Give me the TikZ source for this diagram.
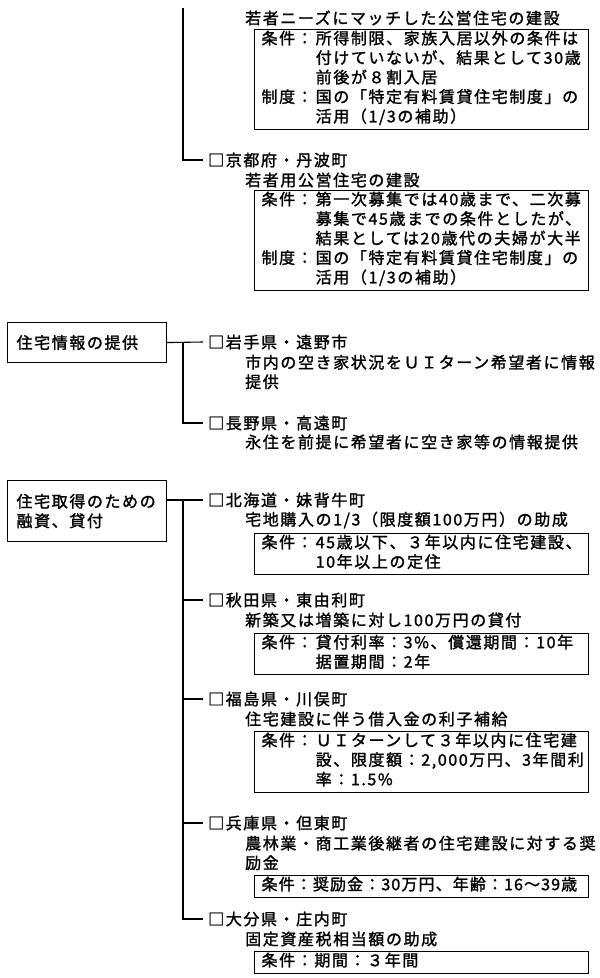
\documentclass[tikz,border=0pt]{standalone}
\usepackage{fontspec}
\setmainfont{Noto Sans CJK JP}[LetterSpace=10,RawFeature={embolden=1.5}]
\usetikzlibrary{positioning}
\newcommand{\jkbox}[1]{\begin{tabular}{@{}l@{\hspace{3pt}}l@{}}#1\end{tabular}}

\begin{document}
\begin{tikzpicture}[x=1pt,y=-1pt,
  every node/.style={font=\fontsize{16}{19.5}\selectfont},
  cat/.style={rectangle, draw, line width=1.1pt, anchor=north west,
    text width=141pt, inner xsep=9pt, align=left},
  town/.style={anchor=west, inner xsep=5pt, inner ysep=0pt},
  desc/.style={anchor=west, inner sep=0pt, align=left},
  cond/.style={rectangle, draw, line width=1.1pt, anchor=north west,
    text width=320pt, inner xsep=7pt, inner ysep=1pt, align=left},
  ln/.style={line width=1.1pt}
]
  \useasboundingbox (0,0) rectangle (600,978);

  % 前ページからの続き
  \coordinate (top) at (183,8);
  \node[desc] (d0) at (245,18) {若者ニーズにマッチした公営住宅の建設};
  \node[cond] (c0) at (254,29) {\jkbox{条件：&所得制限、家族入居以外の条件は\\ &付けていないが、結果として30歳\\ &前後が８割入居\\ 制度：&国の「特定有料賃貸住宅制度」の\\ &活用（1/3の補助）}};

  \node[town] (kyoto) at (203,160) {□京都府・丹波町};
  \node[desc] (d1) at (245,180) {若者用公営住宅の建設};
  \node[cond] (c1) at (254,190) {\jkbox{条件：&第一次募集では40歳まで、二次募\\ &募集で45歳までの条件としたが、\\ &結果としては20歳代の夫婦が大半\\ 制度：&国の「特定有料賃貸住宅制度」の\\ &活用（1/3の補助）}};

  % 住宅情報の提供
  \node[cat, minimum height=40pt] (info) at (7,322) {住宅情報の提供};
  \node[town] (iwate) at (203,342) {□岩手県・遠野市};
  \node[desc] (d2) at (245,372) {市内の空き家状況をＵＩターン希望者に情報\\提供};
  \node[town] (nagano) at (203,423) {□長野県・高遠町};
  \node[desc] (d3) at (245,442) {永住を前提に希望者に空き家等の情報提供};

  % 住宅取得のための融資、貸付
  \node[cat, minimum height=61pt] (loan) at (7,480) {住宅取得のための\\融資、貸付};
  \node[town] (hokkaido) at (203,500) {□北海道・妹背牛町};
  \node[desc] (d4) at (245,520) {宅地購入の1/3（限度額100万円）の助成};
  \node[cond] (c4) at (254,533) {\jkbox{条件：&45歳以下、３年以内に住宅建設、\\ &10年以上の定住}};
  \node[town] (akita) at (203,600) {□秋田県・東由利町};
  \node[desc] (d5) at (245,620) {新築又は増築に対し100万円の貸付};
  \node[cond] (c5) at (254,633) {\jkbox{条件：&貸付利率：3\%、償還期間：10年\\ &据置期間：2年}};
  \node[town] (fukushima) at (203,699) {□福島県・川俣町};
  \node[desc] (d6) at (245,719) {住宅建設に伴う借入金の利子補給};
  \node[cond] (c6) at (254,731) {\jkbox{条件：&ＵＩターンして３年以内に住宅建\\ &設、限度額：2,000万円、3年間利\\ &率：1.5\%}};
  \node[town] (hyogo) at (203,823) {□兵庫県・但東町};
  \node[desc] (d7) at (245,853) {農林業・商工業後継者の住宅建設に対する奨\\励金};
  \node[cond] (c7) at (254,875) {\addfontfeatures{LetterSpace=7}\jkbox{条件：奨励金：30万円、年齢：16～39歳}};
  \node[town] (oita) at (203,919) {□大分県・庄内町};
  \node[desc] (d8) at (245,939) {固定資産税相当額の助成};
  \node[cond] (c8) at (254,951) {\jkbox{条件：期間：３年間}};

  \draw[ln] (top) |- (kyoto.west);
  \draw[ln] (info.east) -- (iwate.west);
  \draw[ln] (info.east -| top) |- (nagano.west);
  \draw[ln] (loan.east |- hokkaido.west) -- (hokkaido.west);
  \draw[ln] (top |- hokkaido.west) |- (oita.west);
  \foreach \t in {akita,fukushima,hyogo}
    \draw[ln] (top |- \t.west) -- (\t.west);
\end{tikzpicture}
\end{document}
